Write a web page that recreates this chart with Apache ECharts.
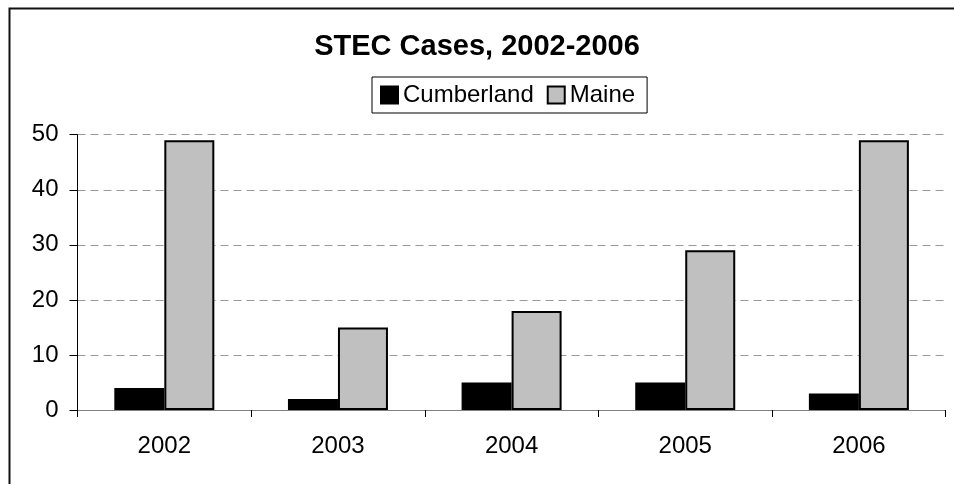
<!DOCTYPE html>
<html>
<head>
<meta charset="utf-8">
<script src="https://cdn.jsdelivr.net/npm/echarts@6/dist/echarts.min.js"></script>
<style>html,body{margin:0;padding:0;background:#fff}#c{width:954px;height:484px}</style>
</head>
<body>
<div id="c"></div>
<script>
const titleText = 'STEC Cases, 2002-2006';
const categories = ['2002', '2003', '2004', '2005', '2006'];
const seriesNames = ['Cumberland', 'Maine'];
const cumberland = [4, 2, 5, 5, 3];
const maine = [49, 15, 18, 29, 49];
const yTicks = [0, 10, 20, 30, 40, 50];

const FONT = '"Liberation Sans", Arial, sans-serif';
const chart = echarts.init(document.getElementById('c'), null, {renderer: 'canvas'});
chart.setOption({
  animation: false,
  backgroundColor: '#fff',
  graphic: [{
    type: 'rect', left: 7, top: 6, silent: true,
    shape: {width: 1000, height: 1000},
    style: {fill: 'none', stroke: '#111', lineWidth: 2}
  }],
  title: {
    text: titleText, left: 'center', top: 27,
    textStyle: {fontFamily: FONT, fontSize: 29, fontWeight: 'bold', color: '#000'}
  },
  legend: {
    data: seriesNames, left: 372, top: 77,
    borderColor: '#000', borderWidth: 1,
    padding: [6, 12, 6, 8],
    itemWidth: 17, itemHeight: 17, itemGap: 13,
    icon: 'rect',
    textStyle: {fontFamily: FONT, fontSize: 24, color: '#000'}
  },
  grid: {left: 77.5, right: 8.3, top: 134.7, bottom: 74},
  xAxis: {
    type: 'category', data: categories,
    axisLine: {lineStyle: {color: '#808080', width: 1}},
    axisTick: {show: true, length: 7, lineStyle: {color: '#000'}},
    axisLabel: {fontFamily: FONT, fontSize: 24, color: '#000', margin: 24}
  },
  yAxis: {
    type: 'value', min: yTicks[0], max: yTicks[yTicks.length - 1], interval: 10,
    axisLine: {show: true, lineStyle: {color: '#000', width: 1}},
    axisTick: {show: true, length: 8, lineStyle: {color: '#000'}},
    axisLabel: {fontFamily: FONT, fontSize: 24, color: '#000', margin: 19},
    splitLine: {show: true, lineStyle: {color: '#999', type: [8, 5], width: 1}}
  },
  series: [
    {name: seriesNames[0], type: 'bar', data: cumberland, barWidth: 50, barGap: '0%',
     itemStyle: {color: '#000', borderColor: '#000', borderWidth: 2}},
    {name: seriesNames[1], type: 'bar', data: maine, barWidth: 50,
     itemStyle: {color: '#c0c0c0', borderColor: '#000', borderWidth: 2}}
  ]
});
</script>
</body>
</html>
